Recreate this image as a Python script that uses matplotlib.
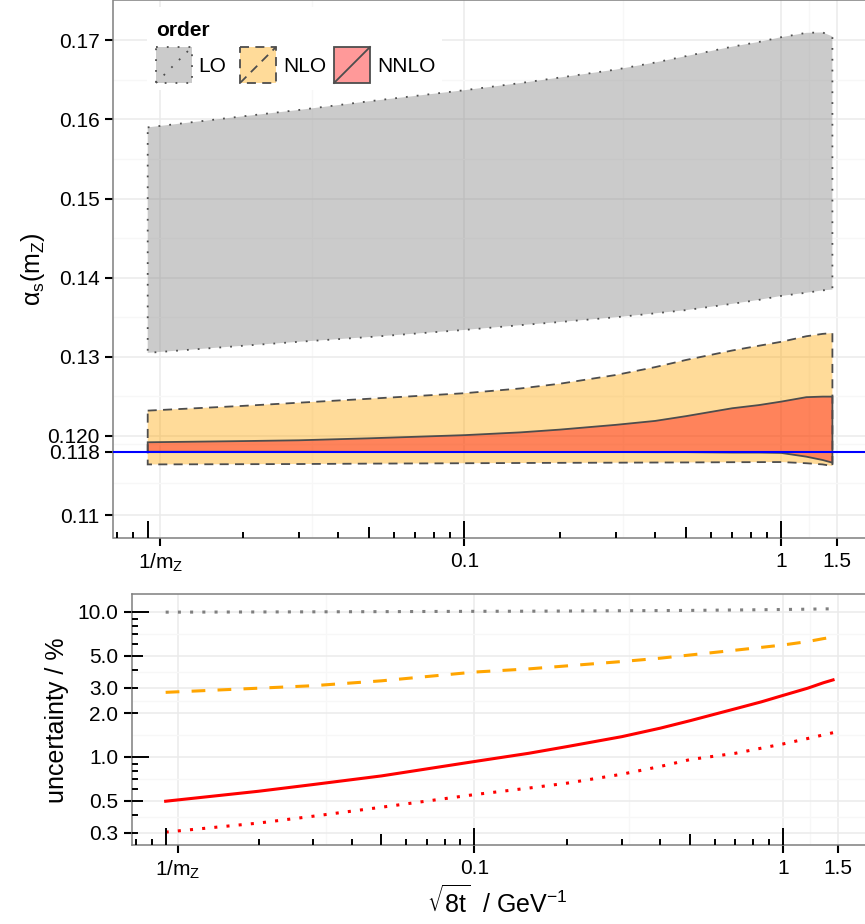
"""alpha_s(m_Z) extracted at the flow scale sqrt(8t): bands per order and their relative uncertainty."""

import matplotlib

matplotlib.use("Agg")
import matplotlib.pyplot as plt
import numpy as np
from matplotlib.colors import to_rgba
from matplotlib.patches import Rectangle
from matplotlib.lines import Line2D
from matplotlib.transforms import blended_transform_factory

plt.rcParams["font.family"] = ["Liberation Sans", "DejaVu Sans"]
plt.rcParams["mathtext.default"] = "regular"

MZ = 91.1876
ALPHA_REF = 0.118

# sqrt(8t) / GeV^-1
scale = [0.01, 0.02, 0.03, 0.05, 0.1, 0.15, 0.2, 0.3, 0.4, 0.5, 0.7, 0.85, 1.0, 1.2, 1.35, 1.45]

# upper / lower edge of the alpha_s(m_Z) band per order
lo_upper = [0.1590, 0.1604, 0.1612, 0.1623, 0.1637, 0.1646, 0.1653, 0.1663, 0.1672, 0.1680, 0.1692,
            0.1698, 0.1704, 0.17095, 0.1710, 0.1705]
lo_lower = [0.1305, 0.1314, 0.1319, 0.1325, 0.1334, 0.1340, 0.1344, 0.1350, 0.1355, 0.1359, 0.1367,
            0.1372, 0.1377, 0.1381, 0.1384, 0.1385]
nlo_upper = [0.1232, 0.1238, 0.1242, 0.1247, 0.1254, 0.1260, 0.1266, 0.1277, 0.1287, 0.1296, 0.1308,
             0.1314, 0.1319, 0.1326, 0.1329, 0.1330]
nlo_lower = [0.1164, 0.11643, 0.11645, 0.1165, 0.11655, 0.11658, 0.1166, 0.11662, 0.11664, 0.11665,
             0.11668, 0.11669, 0.1167, 0.11655, 0.1164, 0.1162]
nnlo_upper = [0.1192, 0.11935, 0.11945, 0.1197, 0.1201, 0.12045, 0.1208, 0.1214, 0.1219, 0.1225, 0.1235,
              0.1239, 0.12434, 0.1249, 0.12497, 0.12497]
nnlo_lower = [0.1180, 0.1180, 0.1180, 0.11798, 0.11797, 0.11796, 0.11796, 0.11796, 0.11795, 0.11795,
              0.1179, 0.1179, 0.11785, 0.11738, 0.11696, 0.11662]

# relative uncertainty in %
unc_lo = [9.97, 10.0, 10.02, 10.05, 10.1, 10.12, 10.15, 10.2, 10.22, 10.25, 10.32, 10.36, 10.4, 10.45,
          10.5, 10.5]
unc_nlo = [2.79, 2.98, 3.1, 3.35, 3.85, 4.05, 4.25, 4.55, 4.8, 5.05, 5.45, 5.7, 5.92, 6.25, 6.55, 6.7]
unc_nnlo = [0.495, 0.58, 0.645, 0.74, 0.93, 1.06, 1.18, 1.38, 1.58, 1.78, 2.15, 2.4, 2.66, 2.98, 3.25, 3.40]
unc_nnlo_alt = [0.303, 0.35, 0.39, 0.45, 0.55, 0.61, 0.66, 0.76, 0.86, 0.96, 1.06, 1.15, 1.23, 1.34,
                1.42, 1.47]

orders = ["LO", "NLO", "NNLO"]
order_colors = ["#7F7F7F", "#FFA500", "#FF0000"]
edge_styles = [(0, (1, 5)), (0, (5, 3.5)), "solid"]

x_breaks = [1 / MZ, 0.1, 1, 1.5]
x_labels = ["$1/m_Z$", "0.1", "1", "1.5"]
top_y_breaks = [0.11, 0.118, 0.12, 0.13, 0.14, 0.15, 0.16, 0.17]
top_y_labels = ["0.11", "0.118", "0.120", "0.13", "0.14", "0.15", "0.16", "0.17"]
bot_y_breaks = [0.3, 0.5, 1, 2, 3, 5, 10]
bot_y_labels = ["0.3", "0.5", "1.0", "2.0", "3.0", "5.0", "10.0"]

W, H = 865, 924
EDGE = "#4D4D4D"
TICK_FS = 15
TITLE_FS = 18


def midpoints(breaks, log=False):
    b = np.asarray(breaks, dtype=float)
    if log:
        return np.sqrt(b[:-1] * b[1:])
    return (b[:-1] + b[1:]) / 2


def style_axes(ax, yticks, ylabels, ylog):
    for side in ["left", "bottom", "top"]:
        ax.spines[side].set_color("#7F7F7F")
        ax.spines[side].set_linewidth(1.1)
    ax.spines["right"].set_visible(False)
    ax.set_xscale("log")
    ax.set_xlim(10 ** -2.108, 10 ** 0.269)
    ax.set_xticks(x_breaks)
    ax.set_xticklabels(x_labels)
    ax.set_xticks(midpoints(x_breaks, log=True), minor=True)
    ax.xaxis.set_minor_formatter(plt.NullFormatter())
    ax.set_yticks(yticks)
    ax.set_yticklabels(ylabels)
    ax.set_yticks(midpoints(yticks, log=ylog), minor=True)
    ax.yaxis.set_minor_formatter(plt.NullFormatter())
    ax.tick_params(which="major", direction="out", length=6, width=1.5, color="black",
                   labelsize=TICK_FS, labelcolor="black", pad=4)
    ax.tick_params(which="minor", length=0)
    ax.grid(which="major", color="#EBEBEB", lw=1.1)
    ax.grid(which="minor", color="#F7F7F7", lw=0.9)
    ax.set_axisbelow(True)


def log_ticks(ax, axis, lo, hi, size_px):
    """Inward log ticks along the bottom (x) or left (y) edge, ggplot annotation_logticks style."""
    if axis == "x":
        trans = blended_transform_factory(ax.transData, ax.transAxes)
    else:
        trans = blended_transform_factory(ax.transAxes, ax.transData)
    for e in range(-3, 3):
        for m in range(1, 10):
            v = m * 10.0 ** e
            if not lo < v < hi:
                continue
            length = 17 if m == 1 else (11 if m == 5 else 6)
            frac = length / size_px
            if axis == "x":
                ax.plot([v, v], [0, frac], transform=trans, color="black", lw=1.4,
                        solid_capstyle="butt", clip_on=False, zorder=4)
            else:
                ax.plot([0, frac], [v, v], transform=trans, color="black", lw=1.4,
                        solid_capstyle="butt", clip_on=False, zorder=4)


fig = plt.figure(figsize=(W / 100, H / 100), dpi=100)

# top panel: alpha_s bands
ax1 = fig.add_axes([113.5 / W, 1 - 538 / H, 753 / W, 538 / H])
style_axes(ax1, top_y_breaks, top_y_labels, ylog=False)
ax1.set_ylim(0.1071, 0.1751)
bands = [(lo_lower, lo_upper), (nlo_lower, nlo_upper), (nnlo_lower, nnlo_upper)]
for (lower, upper), color, ls in zip(bands, order_colors, edge_styles):
    xs = np.concatenate([scale, scale[::-1]])
    ys = np.concatenate([upper, lower[::-1]])
    ax1.fill(xs, ys, facecolor=to_rgba(color, 0.4), edgecolor=EDGE, linestyle=ls, lw=1.3, zorder=2)
ax1.axhline(ALPHA_REF, color="#0000FF", lw=1.5, zorder=3)
log_ticks(ax1, "x", *ax1.get_xlim(), 538)

# bottom panel: relative uncertainty
ax2 = fig.add_axes([132.3 / W, 1 - 845 / H, 734 / W, 251 / H])
ax2.set_yscale("log")
style_axes(ax2, bot_y_breaks, bot_y_labels, ylog=True)
ax2.set_ylim(0.247, 13.3)
ax2.plot(scale, unc_lo, color="#7F7F7F", lw=2.2, ls=(0, (1, 3)), zorder=3)
ax2.plot(scale, unc_nlo, color="#FFA500", lw=2.2, ls=(0, (4.5, 4)), zorder=3)
ax2.plot(scale, unc_nnlo, color="#FF0000", lw=2.2, zorder=3)
ax2.plot(scale, unc_nnlo_alt, color="#FF0000", lw=2.2, ls=(0, (1, 3)), zorder=3)
log_ticks(ax2, "x", *ax2.get_xlim(), 251)
log_ticks(ax2, "y", *ax2.get_ylim(), 734)

fig.text(33 / W, 1 - 269 / H, r"$\alpha_s(m_Z)$", rotation=90, ha="center", va="center", fontsize=TITLE_FS)
fig.text(57 / W, 1 - 720 / H, "uncertainty / %", rotation=90, ha="center", va="center", fontsize=TITLE_FS)
fig.text(497 / W, 1 - 902 / H, r"$\sqrt{8t}$  / GeV$^{-1}$", ha="center", va="center", fontsize=TITLE_FS)

# legend, laid out in pixel coordinates
leg = fig.add_axes([147 / W, 1 - 90 / H, 295 / W, 83 / H])
leg.set_xlim(147, 442)
leg.set_ylim(90, 7)
leg.set_axis_off()
leg.add_patch(Rectangle((147, 7), 295, 83, facecolor="white", edgecolor="none"))
leg.text(156, 31, "order", fontsize=TICK_FS, fontweight="bold", ha="left", va="center")
for name, color, ls, x0, tx in zip(orders, order_colors, edge_styles, [156, 240, 334], [198, 283, 377]):
    leg.add_patch(Rectangle((x0, 47), 36, 36, facecolor=to_rgba(color, 0.4), edgecolor=EDGE,
                            linestyle=ls, lw=1.3))
    leg.add_line(Line2D([x0, x0 + 36], [83, 47], color=EDGE, linestyle=ls, lw=1.3))
    leg.text(tx, 66, name, fontsize=TICK_FS, ha="left", va="center")

fig.savefig("out.png", dpi=100)
